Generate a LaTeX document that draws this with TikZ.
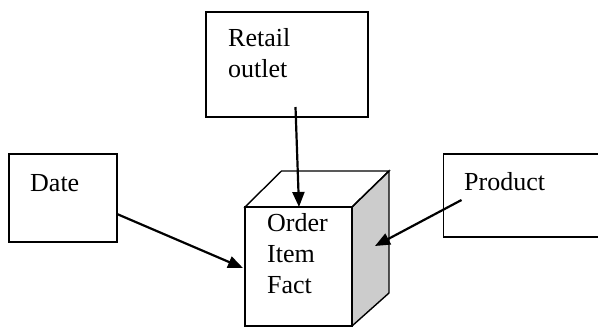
\documentclass[tikz,border=0pt]{standalone}
\usepackage{fontspec}
\setmainfont{Liberation Serif}
\usetikzlibrary{arrows.meta}
\begin{document}
\begin{tikzpicture}[x=1pt,y=-1pt,
  box/.style={draw, line width=1.4pt, inner sep=0pt, outer sep=0pt, anchor=north west},
  lbl/.style={font=\fontsize{26}{31}\selectfont, anchor=base west, inner sep=0pt, align=left},
  conn/.style={line width=2.2pt, -{Triangle[length=15pt,width=12pt]}},
  cubeline/.style={line width=1.4pt, line join=miter}]
\useasboundingbox (0,0) rectangle (598,327);
\clip (0,0) rectangle (598,327);
\fill[white] (0,0) rectangle (598,327);
% boxes
\node[box, minimum width=162pt, minimum height=105pt] (retail) at (206,12) {};
\node[box, minimum width=108pt, minimum height=88pt] (date) at (9,154) {};
\node[box, minimum width=162pt, minimum height=83pt] (product) at (443.5,154) {};
% cube
\coordinate (cfl) at (245,207);
\coordinate (cfr) at (352,207);
\coordinate (cbl) at (281.5,171);
\coordinate (cbr) at (389,171);
\coordinate (crb) at (389,293);
\coordinate (cfrb) at (352,326);
\coordinate (cflb) at (245,326);
\fill[gray!40] (cfr) -- (cbr) -- (crb) -- (cfrb) -- cycle;
\draw[cubeline] (cfl) -- (cbl) -- (cbr) -- (cfr) -- cycle;
\draw[cubeline] (cfr) -- (cbr) -- (crb) -- (cfrb);
\draw[cubeline] (cfl) -- (cfr) -- (cfrb) -- (cflb) -- cycle;
% labels (anchor = baseline of last line)
\node[lbl] (tretail) at (228,77) {Retail\\outlet};
\node[lbl] (tdate) at (30,191) {Date};
\node[lbl] (tproduct) at (464,190) {Product};
\node[lbl] (tfact) at (267,293) {Order\\Item\\Fact};
% connectors
\coordinate (rs) at (295.5,107);
\coordinate (re) at (299,207);
\coordinate (ds) at (117,214);
\coordinate (de) at (243,268);
\coordinate (ps) at (461.5,200);
\coordinate (pe) at (375,246);
\draw[conn] (rs) -- (re);
\draw[conn] (ds) -- (de);
\draw[conn] (ps) -- (pe);
\end{tikzpicture}
\end{document}
